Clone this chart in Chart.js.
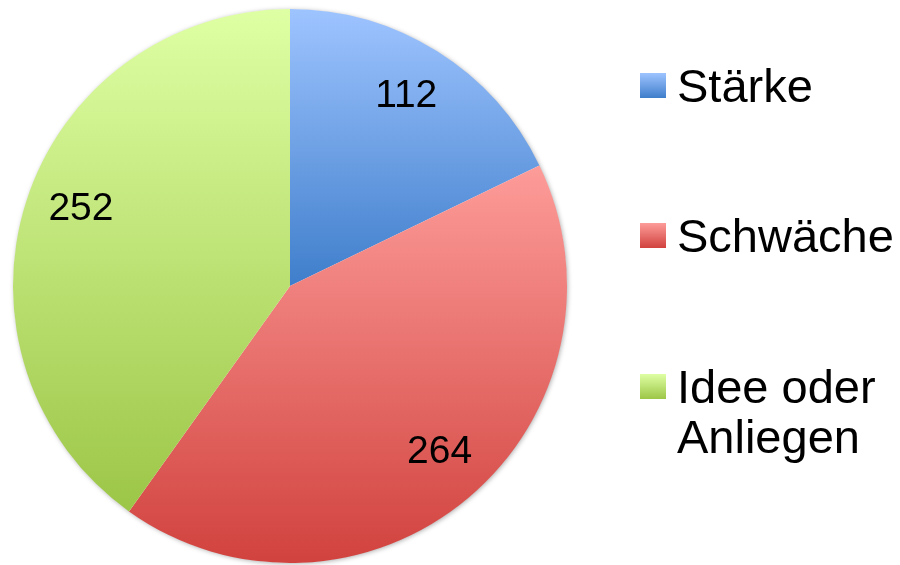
<!DOCTYPE html>
<html>
<head>
<meta charset="utf-8">
<script src="https://cdn.jsdelivr.net/npm/chart.js@4/dist/chart.umd.min.js"></script>
<style>
  html, body { margin: 0; padding: 0; background: #fff; }
  #wrap { position: relative; width: 900px; height: 565px; }
  #chart { position: absolute; left: 0; top: 0; }
  #legend { position: absolute; left: 0; top: 0; font-family: "Liberation Sans", Arial, sans-serif; font-size: 47px; line-height: 50px; color: #000; }
  .item { position: absolute; left: 640px; }
  .box { position: absolute; left: 0; width: 26px; height: 25px; }
  .txt { position: absolute; left: 37px; white-space: nowrap; }
</style>
</head>
<body>
<div id="wrap">
  <canvas id="chart" width="900" height="565"></canvas>
  <div id="legend"></div>
</div>
<script>
const labels = ['Stärke', 'Schwäche', ['Idee oder', 'Anliegen']];
const values = [112, 264, 252];
const topColors = ['#9ec4ff', '#fd9c99', '#dfffa4'];
const bottomColors = ['#3f7ecb', '#d1423e', '#9cc647'];

// vertical gradient fitted to each slice's own height
function sliceGradient(ctx) {
  const i = ctx.dataIndex;
  const arc = ctx.element;
  if (!arc || arc.outerRadius == null) return bottomColors[i];
  const { x, y, startAngle, endAngle, outerRadius: r } = arc;
  const ys = [y, y + r * Math.sin(startAngle), y + r * Math.sin(endAngle)];
  for (const a of [-Math.PI / 2, Math.PI / 2, 3 * Math.PI / 2]) {
    if (a >= startAngle - 1e-6 && a <= endAngle + 1e-6) ys.push(y + r * Math.sin(a));
  }
  const g = ctx.chart.ctx.createLinearGradient(0, Math.min(...ys), 0, Math.max(...ys));
  g.addColorStop(0, topColors[i]);
  g.addColorStop(1, bottomColors[i]);
  return g;
}

const pieShadow = {
  id: 'pieShadow',
  beforeDatasetsDraw(chart) {
    const arc = chart.getDatasetMeta(0).data[0];
    if (!arc) return;
    const c = chart.ctx;
    c.save();
    c.shadowColor = 'rgba(0,0,0,0.35)';
    c.shadowBlur = 5;
    c.shadowOffsetX = 1;
    c.shadowOffsetY = 1;
    c.fillStyle = '#fff';
    c.beginPath();
    c.arc(arc.x, arc.y, arc.outerRadius - 0.5, 0, Math.PI * 2);
    c.fill();
    c.restore();
  }
};

// small angle nudges (radians) so labels sit like the original's "best fit"
const labelNudge = [-0.012, -0.035, 0.045];

const valueLabels = {
  id: 'valueLabels',
  afterDatasetsDraw(chart) {
    const c = chart.ctx;
    c.save();
    c.font = '39px "Liberation Sans", Arial, sans-serif';
    c.fillStyle = '#000';
    c.textAlign = 'center';
    c.textBaseline = 'middle';
    chart.getDatasetMeta(0).data.forEach((arc, i) => {
      const mid = (arc.startAngle + arc.endAngle) / 2 + labelNudge[i];
      const d = arc.outerRadius * 0.805;
      c.fillText(String(values[i]), arc.x + Math.cos(mid) * d, arc.y + Math.sin(mid) * d + 1);
    });
    c.restore();
  }
};

const chart = new Chart(document.getElementById('chart'), {
  type: 'pie',
  data: {
    labels: labels,
    datasets: [{
      data: values,
      backgroundColor: sliceGradient,
      borderWidth: 0
    }]
  },
  options: {
    responsive: false,
    animation: false,
    layout: { padding: { left: 13, right: 333, top: 9, bottom: 2 } },
    plugins: {
      legend: { display: false },
      tooltip: { enabled: false }
    }
  },
  plugins: [pieShadow, valueLabels]
});
chart.update();

// legend built from the same arrays
const baselines = [102, 252, 403];
const legend = document.getElementById('legend');
labels.forEach((lab, i) => {
  const item = document.createElement('div');
  item.className = 'item';
  item.style.top = (baselines[i] - 41) + 'px';
  const box = document.createElement('div');
  box.className = 'box';
  box.style.top = '12px';
  box.style.background = 'linear-gradient(' + topColors[i] + ', ' + bottomColors[i] + ')';
  const txt = document.createElement('div');
  txt.className = 'txt';
  txt.innerHTML = Array.isArray(lab) ? lab.join('<br>') : lab;
  item.appendChild(box);
  item.appendChild(txt);
  legend.appendChild(item);
});
</script>
</body>
</html>
